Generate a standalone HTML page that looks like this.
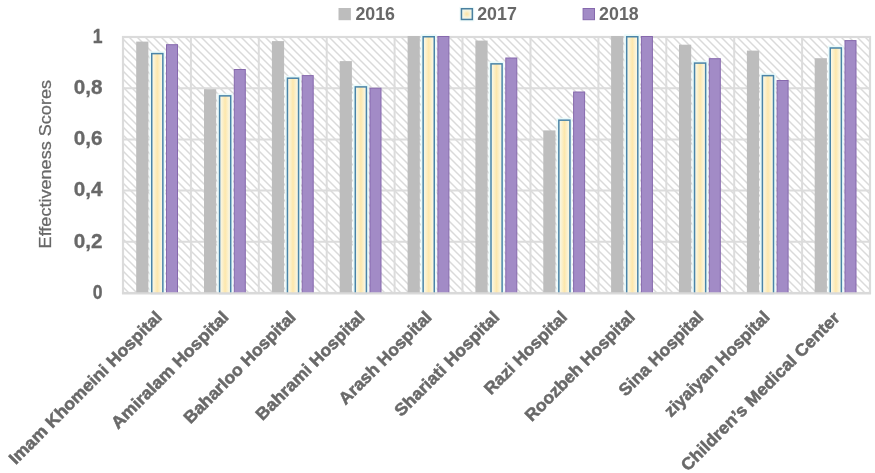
<!DOCTYPE html>
<html><head><meta charset="utf-8"><title>Effectiveness Scores</title>
<style>html,body{margin:0;padding:0;background:#fff}body{width:875px;height:473px;overflow:hidden;font-family:"Liberation Sans",sans-serif}svg{display:block}text{font-family:"Liberation Sans",sans-serif;fill:#686868}</style></head><body>
<svg width="875" height="473" viewBox="0 0 875 473">
<defs>
<pattern id="hatch" width="8" height="8" patternUnits="userSpaceOnUse" x="1" y="5"><rect width="8" height="8" fill="#fff"/><path d="M-2,-2 L10,10 M-2,6 L2,10 M6,-2 L10,2" stroke="#dadada" stroke-width="1.45" fill="none"/></pattern>
<linearGradient id="yel" x1="0" x2="1" y1="0" y2="0"><stop offset="0" stop-color="#f9fbf1"/><stop offset="0.5" stop-color="#fde7ac"/><stop offset="1" stop-color="#f9fbf1"/></linearGradient>
<radialGradient id="yelm" cx="0.5" cy="0.5" r="0.6"><stop offset="0" stop-color="#fde3a2"/><stop offset="0.55" stop-color="#f6f4dc"/><stop offset="1" stop-color="#eaf7f5"/></radialGradient>
</defs>
<rect x="0" y="0" width="875" height="473" fill="#fff"/>
<rect x="123.0" y="37.0" width="747.0" height="256.0" fill="url(#hatch)"/>
<path d="M123.0,241.8H870.0 M123.0,190.6H870.0 M123.0,139.4H870.0 M123.0,88.2H870.0 M190.9,37.0V293.0 M258.8,37.0V293.0 M326.7,37.0V293.0 M394.6,37.0V293.0 M462.5,37.0V293.0 M530.5,37.0V293.0 M598.4,37.0V293.0 M666.3,37.0V293.0 M734.2,37.0V293.0 M802.1,37.0V293.0" stroke="#dcdcdc" stroke-width="2" fill="none"/>
<rect x="123.0" y="37.0" width="747.0" height="256.0" fill="none" stroke="#dbdbdb" stroke-width="2.2"/>
<rect x="136.2" y="41.6" width="12.2" height="251.4" fill="#bdbdbd"/>
<rect x="149.4" y="51.3" width="15.8" height="241.7" fill="#eafafa"/>
<rect x="151.75" y="53.62" width="11.1" height="240.1" fill="url(#yel)" stroke="#4a84a8" stroke-width="1.5"/>
<rect x="166.5" y="44.7" width="11.0" height="248.8" fill="#a28bc6" stroke="#8669ad" stroke-width="1"/>
<rect x="204.0" y="89.2" width="12.2" height="203.8" fill="#bdbdbd"/>
<rect x="217.2" y="93.5" width="15.8" height="199.5" fill="#eafafa"/>
<rect x="219.60" y="95.86" width="11.1" height="197.9" fill="url(#yel)" stroke="#4a84a8" stroke-width="1.5"/>
<rect x="234.3" y="69.5" width="11.0" height="224.0" fill="#a28bc6" stroke="#8669ad" stroke-width="1"/>
<rect x="271.9" y="41.1" width="12.2" height="251.9" fill="#bdbdbd"/>
<rect x="285.1" y="75.8" width="15.8" height="217.2" fill="#eafafa"/>
<rect x="287.45" y="78.20" width="11.1" height="215.6" fill="url(#yel)" stroke="#4a84a8" stroke-width="1.5"/>
<rect x="302.2" y="75.6" width="11.0" height="217.9" fill="#a28bc6" stroke="#8669ad" stroke-width="1"/>
<rect x="339.7" y="61.1" width="12.2" height="231.9" fill="#bdbdbd"/>
<rect x="352.9" y="84.6" width="15.8" height="208.4" fill="#eafafa"/>
<rect x="355.30" y="86.90" width="11.1" height="206.8" fill="url(#yel)" stroke="#4a84a8" stroke-width="1.5"/>
<rect x="370.0" y="88.2" width="11.0" height="205.3" fill="#a28bc6" stroke="#8669ad" stroke-width="1"/>
<rect x="407.6" y="36.0" width="12.2" height="257.0" fill="#bdbdbd"/>
<rect x="420.8" y="34.4" width="15.8" height="258.6" fill="#eafafa"/>
<rect x="423.15" y="36.75" width="11.1" height="257.0" fill="url(#yel)" stroke="#4a84a8" stroke-width="1.5"/>
<rect x="437.9" y="36.5" width="11.0" height="257.0" fill="#a28bc6" stroke="#8669ad" stroke-width="1"/>
<rect x="475.4" y="40.6" width="12.2" height="252.4" fill="#bdbdbd"/>
<rect x="488.6" y="61.5" width="15.8" height="231.5" fill="#eafafa"/>
<rect x="491.00" y="63.86" width="11.1" height="229.9" fill="url(#yel)" stroke="#4a84a8" stroke-width="1.5"/>
<rect x="505.8" y="58.0" width="11.0" height="235.5" fill="#a28bc6" stroke="#8669ad" stroke-width="1"/>
<rect x="543.3" y="130.4" width="12.2" height="162.6" fill="#bdbdbd"/>
<rect x="556.5" y="117.8" width="15.8" height="175.2" fill="#eafafa"/>
<rect x="558.85" y="120.18" width="11.1" height="173.6" fill="url(#yel)" stroke="#4a84a8" stroke-width="1.5"/>
<rect x="573.6" y="92.0" width="11.0" height="201.5" fill="#a28bc6" stroke="#8669ad" stroke-width="1"/>
<rect x="611.1" y="36.0" width="12.2" height="257.0" fill="#bdbdbd"/>
<rect x="624.3" y="34.4" width="15.8" height="258.6" fill="#eafafa"/>
<rect x="626.70" y="36.75" width="11.1" height="257.0" fill="url(#yel)" stroke="#4a84a8" stroke-width="1.5"/>
<rect x="641.4" y="36.5" width="11.0" height="257.0" fill="#a28bc6" stroke="#8669ad" stroke-width="1"/>
<rect x="679.0" y="44.7" width="12.2" height="248.3" fill="#bdbdbd"/>
<rect x="692.2" y="60.7" width="15.8" height="232.3" fill="#eafafa"/>
<rect x="694.55" y="63.09" width="11.1" height="230.7" fill="url(#yel)" stroke="#4a84a8" stroke-width="1.5"/>
<rect x="709.3" y="58.7" width="11.0" height="234.8" fill="#a28bc6" stroke="#8669ad" stroke-width="1"/>
<rect x="746.9" y="50.6" width="12.2" height="242.4" fill="#bdbdbd"/>
<rect x="760.0" y="73.3" width="15.8" height="219.7" fill="#eafafa"/>
<rect x="762.40" y="75.64" width="11.1" height="218.1" fill="url(#yel)" stroke="#4a84a8" stroke-width="1.5"/>
<rect x="777.1" y="80.5" width="11.0" height="213.0" fill="#a28bc6" stroke="#8669ad" stroke-width="1"/>
<rect x="814.7" y="58.2" width="12.2" height="234.8" fill="#bdbdbd"/>
<rect x="827.9" y="45.6" width="15.8" height="247.4" fill="#eafafa"/>
<rect x="830.25" y="47.99" width="11.1" height="245.8" fill="url(#yel)" stroke="#4a84a8" stroke-width="1.5"/>
<rect x="845.0" y="40.6" width="11.0" height="252.9" fill="#a28bc6" stroke="#8669ad" stroke-width="1"/>
<rect x="0" y="294.2" width="875" height="8" fill="#fff"/>
<path d="M122.0,293.3H871.0" stroke="#d9d9d9" stroke-width="2.2"/>
<rect x="338.5" y="8" width="12.4" height="12.2" fill="#bdbdbd"/>
<rect x="459.5" y="6.8" width="14.8" height="14.6" fill="#eefafa"/>
<rect x="461.45" y="8.75" width="10.9" height="10.7" fill="url(#yelm)" stroke="#4a80a0" stroke-width="1.5"/>
<rect x="583.1" y="8.5" width="11.4" height="11.2" fill="#a28bc6" stroke="#8669ad" stroke-width="1"/>
<g style="filter:grayscale(1)">
<text x="102.6" y="298.7" text-anchor="end" font-size="19.8" font-weight="bold" stroke="#666" stroke-width="0.3" textLength="9.8" lengthAdjust="spacingAndGlyphs">0</text>
<text x="102.6" y="247.5" text-anchor="end" font-size="19.8" font-weight="bold" stroke="#666" stroke-width="0.3" textLength="28.8" lengthAdjust="spacingAndGlyphs">0,2</text>
<text x="102.6" y="196.3" text-anchor="end" font-size="19.8" font-weight="bold" stroke="#666" stroke-width="0.3" textLength="28.8" lengthAdjust="spacingAndGlyphs">0,4</text>
<text x="102.6" y="145.1" text-anchor="end" font-size="19.8" font-weight="bold" stroke="#666" stroke-width="0.3" textLength="28.8" lengthAdjust="spacingAndGlyphs">0,6</text>
<text x="102.6" y="93.9" text-anchor="end" font-size="19.8" font-weight="bold" stroke="#666" stroke-width="0.3" textLength="28.8" lengthAdjust="spacingAndGlyphs">0,8</text>
<text x="102.6" y="42.7" text-anchor="end" font-size="19.8" font-weight="bold" stroke="#666" stroke-width="0.3" textLength="9.8" lengthAdjust="spacingAndGlyphs">1</text>
<text transform="translate(51.4,248.4) rotate(-90)" font-size="17.4" textLength="168.4" lengthAdjust="spacingAndGlyphs" stroke="#666" stroke-width="0.25">Effectiveness Scores</text>
<text x="355.4" y="19.7" font-size="17.5" font-weight="bold" textLength="39.6" lengthAdjust="spacingAndGlyphs">2016</text>
<text x="477.2" y="19.7" font-size="17.5" font-weight="bold" textLength="39.6" lengthAdjust="spacingAndGlyphs">2017</text>
<text x="599.1" y="19.7" font-size="17.5" font-weight="bold" textLength="39.6" lengthAdjust="spacingAndGlyphs">2018</text>
<text transform="translate(163.0,318.2) rotate(-45)" text-anchor="end" font-size="17.0" font-weight="bold" stroke="#6e6e6e" stroke-width="0.55" fill="#6e6e6e" textLength="208.1" lengthAdjust="spacingAndGlyphs">Imam Khomeini Hospital</text>
<text transform="translate(229.5,318.2) rotate(-45)" text-anchor="end" font-size="17.0" font-weight="bold" stroke="#6e6e6e" stroke-width="0.55" fill="#6e6e6e" textLength="157.8" lengthAdjust="spacingAndGlyphs">Amiralam Hospital</text>
<text transform="translate(296.8,318.2) rotate(-45)" text-anchor="end" font-size="17.0" font-weight="bold" stroke="#6e6e6e" stroke-width="0.55" fill="#6e6e6e" textLength="150.4" lengthAdjust="spacingAndGlyphs">Baharloo Hospital</text>
<text transform="translate(365.7,318.2) rotate(-45)" text-anchor="end" font-size="17.0" font-weight="bold" stroke="#6e6e6e" stroke-width="0.55" fill="#6e6e6e" textLength="145.8" lengthAdjust="spacingAndGlyphs">Bahrami Hospital</text>
<text transform="translate(432.8,318.2) rotate(-45)" text-anchor="end" font-size="17.0" font-weight="bold" stroke="#6e6e6e" stroke-width="0.55" fill="#6e6e6e" textLength="123.5" lengthAdjust="spacingAndGlyphs">Arash Hospital</text>
<text transform="translate(500.5,318.2) rotate(-45)" text-anchor="end" font-size="17.0" font-weight="bold" stroke="#6e6e6e" stroke-width="0.55" fill="#6e6e6e" textLength="140.2" lengthAdjust="spacingAndGlyphs">Shariati Hospital</text>
<text transform="translate(568.2,318.2) rotate(-45)" text-anchor="end" font-size="17.0" font-weight="bold" stroke="#6e6e6e" stroke-width="0.55" fill="#6e6e6e" textLength="109.2" lengthAdjust="spacingAndGlyphs">Razi Hospital</text>
<text transform="translate(635.9,318.2) rotate(-45)" text-anchor="end" font-size="17.0" font-weight="bold" stroke="#6e6e6e" stroke-width="0.55" fill="#6e6e6e" textLength="147.2" lengthAdjust="spacingAndGlyphs">Roozbeh Hospital</text>
<text transform="translate(704.4,318.2) rotate(-45)" text-anchor="end" font-size="17.0" font-weight="bold" stroke="#6e6e6e" stroke-width="0.55" fill="#6e6e6e" textLength="111.5" lengthAdjust="spacingAndGlyphs">Sina Hospital</text>
<text transform="translate(770.7,318.2) rotate(-45)" text-anchor="end" font-size="17.0" font-weight="bold" stroke="#6e6e6e" stroke-width="0.55" fill="#6e6e6e" textLength="140.9" lengthAdjust="spacingAndGlyphs">ziyaiyan Hospital</text>
<text transform="translate(840.8,318.8) rotate(-45)" text-anchor="end" font-size="17.0" font-weight="bold" stroke="#6e6e6e" stroke-width="0.55" fill="#6e6e6e" textLength="216.6" lengthAdjust="spacingAndGlyphs">Children&#8217;s Medical Center</text>
</g>
</svg></body></html>
